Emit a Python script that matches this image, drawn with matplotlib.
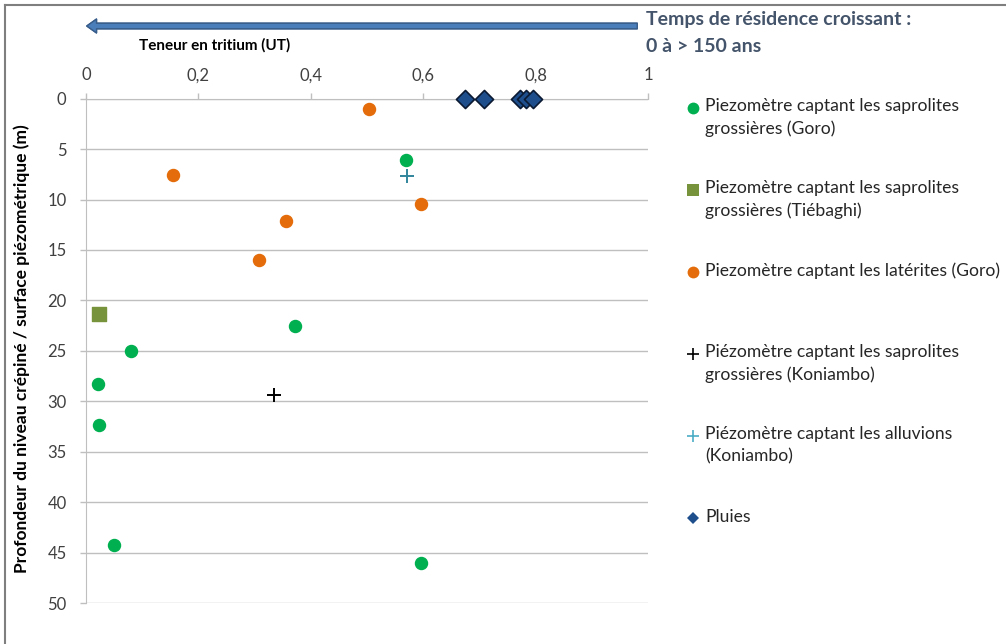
import matplotlib
matplotlib.use('Agg')
import matplotlib.pyplot as plt
from matplotlib.lines import Line2D

plt.rcParams['font.family'] = ['Lato', 'DejaVu Sans']

# tritium content (UT) and depth (m)
goro_sap_x = [0.569, 0.372, 0.080, 0.021, 0.024, 0.050, 0.596]
goro_sap_y = [6.1, 22.5, 25.0, 28.3, 32.4, 44.2, 46.0]

tieb_sap_x = [0.024]
tieb_sap_y = [21.3]

goro_lat_x = [0.504, 0.154, 0.596, 0.356, 0.308]
goro_lat_y = [1.0, 7.6, 10.4, 12.1, 16.0]

koni_sap_x = [0.335]
koni_sap_y = [29.4]

koni_alu_x = [0.571]
koni_alu_y = [7.7]

pluie_x = [0.675, 0.709, 0.772, 0.783, 0.796]
pluie_y = [0, 0, 0, 0, 0]

x_ticks = [0, 0.2, 0.4, 0.6, 0.8, 1]
x_labels = ['0', '0,2', '0,4', '0,6', '0,8', '1']
y_ticks = [0, 5, 10, 15, 20, 25, 30, 35, 40, 45, 50]

labels = [
    'Piezomètre captant les saprolites\ngrossières (Goro)',
    'Piezomètre captant les saprolites\ngrossières (Tiébaghi)',
    'Piezomètre captant les latérites (Goro)',
    'Piézomètre captant les saprolites\ngrossières (Koniambo)',
    'Piézomètre captant les alluvions\n(Koniambo)',
    'Pluies',
]

W, H = 1006, 644
fig = plt.figure(figsize=(W / 100, H / 100), dpi=100)
ax = fig.add_axes([86 / W, 1 - 603 / H, 562 / W, (603 - 98.7) / H])

grey = '#BFBFBF'
ax.set_xlim(0, 1)
ax.set_ylim(50, 0)
ax.set_yticks(y_ticks)
ax.yaxis.grid(True, color=grey, lw=1)
ax.set_axisbelow(True)
ax.xaxis.tick_top()
ax.set_xticks(x_ticks)
ax.set_xticklabels(x_labels)
for s in ['right', 'bottom']:
    ax.spines[s].set_visible(False)
for s in ['left', 'top']:
    ax.spines[s].set_color(grey)
ax.tick_params(axis='x', length=4, width=1, color=grey, pad=7, labelsize=12, labelcolor='#404040')
ax.tick_params(axis='y', length=4, width=1, color=grey, pad=10, labelsize=12, labelcolor='#404040')

ms = 75
ax.scatter(goro_sap_x, goro_sap_y, s=ms, marker='o', color='#00B050', zorder=3)
ax.scatter(tieb_sap_x, tieb_sap_y, s=ms + 15, marker='s', color='#77933C', zorder=3)
ax.scatter(goro_lat_x, goro_lat_y, s=ms, marker='o', color='#E46C0A', zorder=3)
ax.scatter(koni_sap_x, koni_sap_y, s=110, marker='+', color='black', lw=1.4, zorder=3)
ax.scatter(koni_alu_x, koni_alu_y, s=110, marker='+', color='#31859C', lw=1.4, zorder=3)
ax.scatter(pluie_x, pluie_y, s=85, marker='D', color='#1F4E8C', edgecolor='#0B1A33', lw=1.2, zorder=4, clip_on=False)

# legend drawn by hand so markers sit on the first line, like the original
handles = [
    dict(marker='o', color='#00B050', ms=8.5, mew=0),
    dict(marker='s', color='#77933C', ms=8, mew=0),
    dict(marker='o', color='#E46C0A', ms=8.5, mew=0),
    dict(marker='+', color='black', ms=9, mew=1.2),
    dict(marker='+', color='#4BACC6', ms=9, mew=1.2),
    dict(marker='D', color='#1F4E8C', ms=6.5, mew=0),
]
y0, step = 108, 82
for i, (lab, h) in enumerate(zip(labels, handles)):
    yy = 1 - (y0 + i * step) / H
    fig.add_artist(Line2D([693 / W], [yy], ls='none', transform=fig.transFigure, **h))
    fig.text(705 / W, yy + 9.5 / H, lab, fontsize=12.6, color='#262626', va='top', ha='left',
             linespacing=1.41)

fig.text(215 / W, 1 - 45 / H, 'Teneur en tritium (UT)',
         ha='center', va='center', fontsize=11, fontweight='bold')
fig.text(22 / W, 1 - 349 / H, 'Profondeur du niveau crépiné / surface piézométrique (m)',
         rotation=90, ha='center', va='center', fontsize=12.5, fontweight='bold')
fig.text(646 / W, 1 - 20 / H, 'Temps de résidence croissant :', fontsize=14,
         fontweight='bold', color='#44546A', ha='left', va='center')
fig.text(646 / W, 1 - 46 / H, '0 à > 150 ans', fontsize=14,
         fontweight='bold', color='#44546A', ha='left', va='center')

fig.add_artist(plt.annotate('', xy=(84, H - 26), xytext=(640, H - 26), xycoords='figure pixels',
                            textcoords='figure pixels',
                            arrowprops=dict(arrowstyle='simple,head_length=0.7,head_width=1.0,tail_width=0.4',
                                            fc='#4A7EBB', ec='#385D8A', lw=1, mutation_scale=10)))

# frame lines at top and left of picture
fig.add_artist(Line2D([5 / W, 5 / W], [0, 1 - 5 / H], color='#7F7F7F', lw=1.5, transform=fig.transFigure))
fig.add_artist(Line2D([5 / W, 1], [1 - 5 / H, 1 - 5 / H], color='#7F7F7F', lw=1.5, transform=fig.transFigure))

fig.savefig('out.png', dpi=100)
